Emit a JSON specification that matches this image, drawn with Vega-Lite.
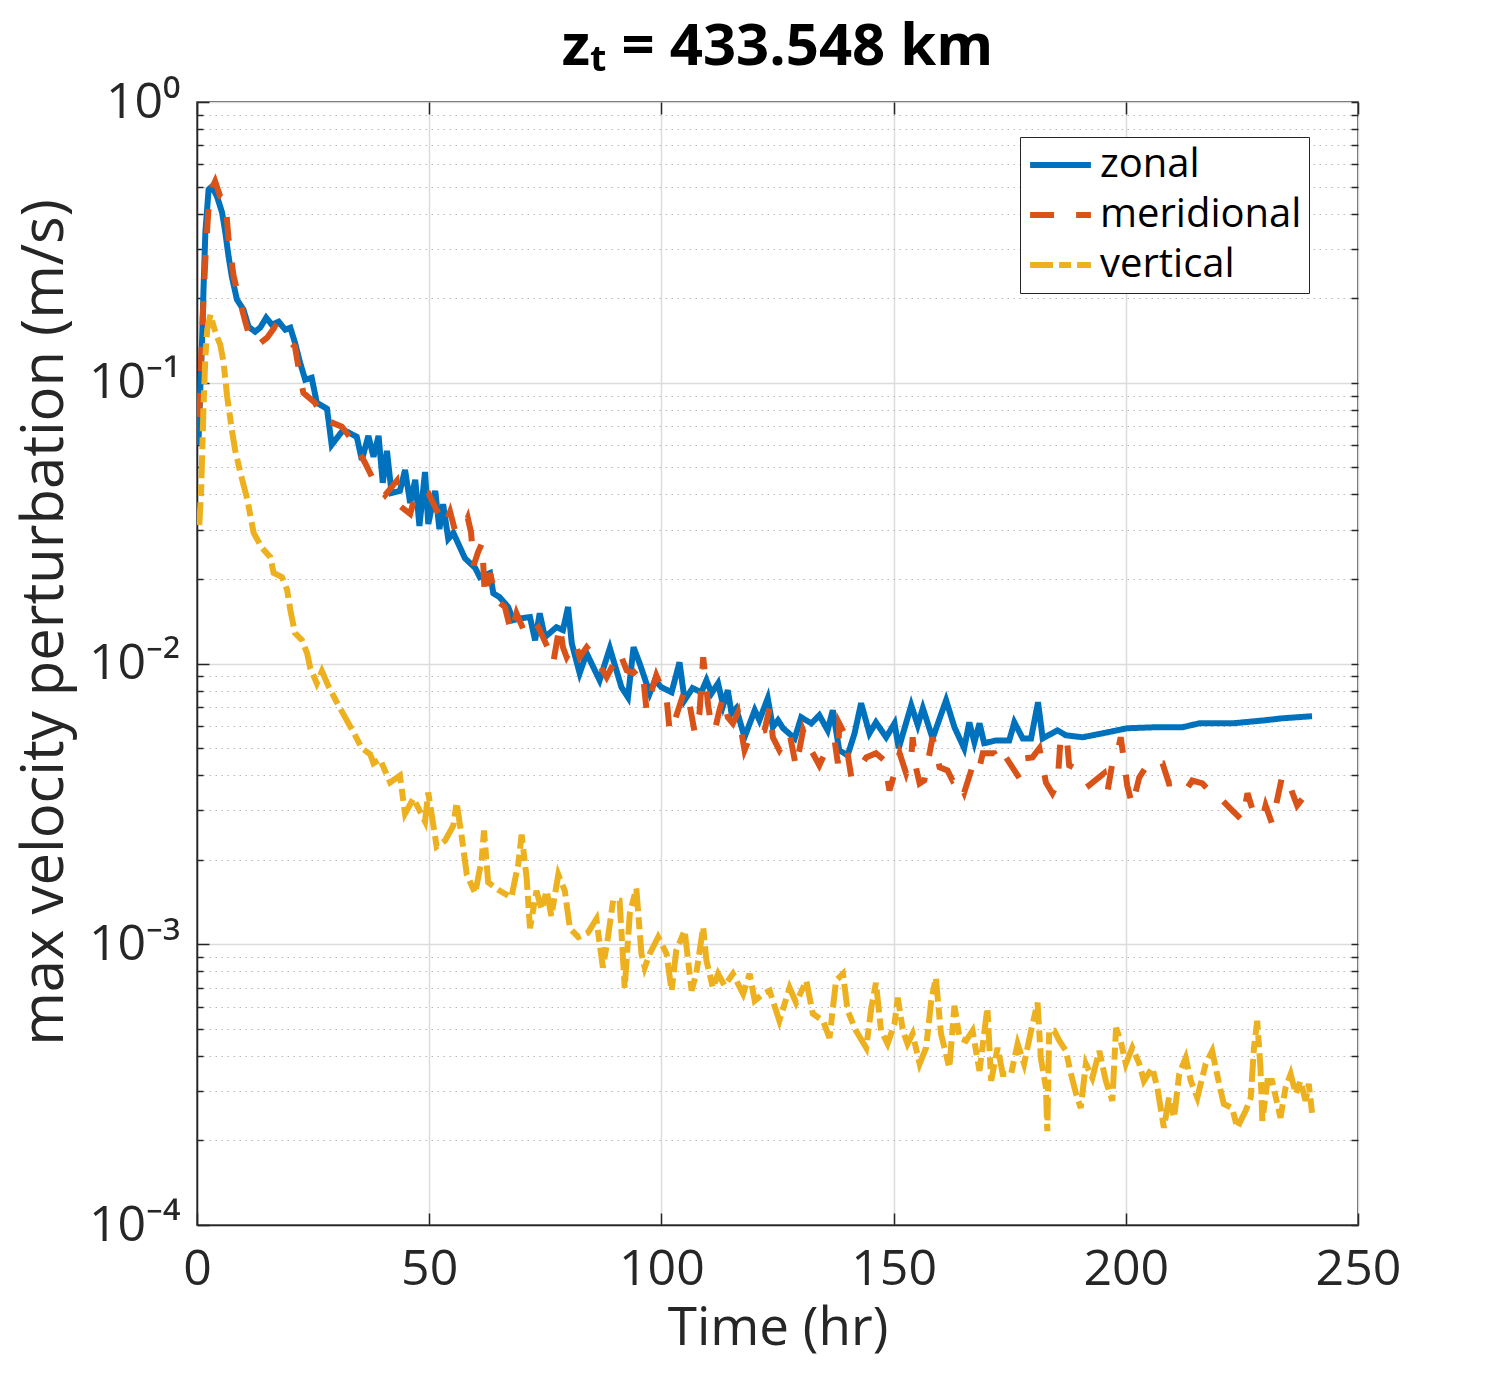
{
 "$schema": "https://vega.github.io/schema/vega-lite/v6.json",
 "width": 1161, "height": 1123,
 "autosize": {"type": "none"},
 "padding": {"left": 197, "top": 102, "right": 146, "bottom": 151},
 "background": "white",
 "config": {"font": "Open Sans", "view": {"stroke": "#262626", "strokeWidth": 1.5},
   "legend": {"orient": "none", "legendX": 823, "legendY": 35, "title": null, "labelFontSize": 40, "labelColor": "black", "labelFont": "Open Sans", "labelLimit": 0, "symbolType": "stroke", "symbolSize": 3700, "symbolStrokeWidth": 6, "strokeColor": "#262626", "fillColor": "white", "padding": 7, "clipHeight": 42, "rowPadding": 8, "labelOffset": 6}},
 "title": {"text": "zₜ = 433.548 km", "fontSize": 58, "fontWeight": "bold", "color": "black", "offset": 0, "anchor": "middle", "font": "Open Sans"},
 "data": {"values": [
{"s":"zonal","t":0.3,"v":0.0601},{"s":"zonal","t":0.7,"v":0.0944},{"s":"zonal","t":1.1,"v":0.1423},{"s":"zonal","t":1.4,"v":0.2147},{"s":"zonal","t":1.8,"v":0.343},{"s":"zonal","t":2.5,"v":0.488},{"s":"zonal","t":3.2,"v":0.5},{"s":"zonal","t":4.3,"v":0.461},{"s":"zonal","t":5.4,"v":0.404},{"s":"zonal","t":6.1,"v":0.343},{"s":"zonal","t":6.8,"v":0.2815},{"s":"zonal","t":7.5,"v":0.2388},{"s":"zonal","t":8.6,"v":0.1978},{"s":"zonal","t":10.0,"v":0.1822},{"s":"zonal","t":11.1,"v":0.1584},{"s":"zonal","t":12.5,"v":0.152},{"s":"zonal","t":13.6,"v":0.1571},{"s":"zonal","t":14.9,"v":0.1705},{"s":"zonal","t":16.1,"v":0.161},{"s":"zonal","t":17.6,"v":0.165},{"s":"zonal","t":19.0,"v":0.1545},{"s":"zonal","t":20.1,"v":0.157},{"s":"zonal","t":21.1,"v":0.1389},{"s":"zonal","t":22.2,"v":0.1179},{"s":"zonal","t":23.3,"v":0.1025},{"s":"zonal","t":24.7,"v":0.1042},{"s":"zonal","t":25.8,"v":0.0848},{"s":"zonal","t":28.0,"v":0.0808},{"s":"zonal","t":29.0,"v":0.0601},{"s":"zonal","t":31.5,"v":0.068},{"s":"zonal","t":34.4,"v":0.0642},{"s":"zonal","t":35.5,"v":0.0531},{"s":"zonal","t":36.9,"v":0.0647},{"s":"zonal","t":38.0,"v":0.0545},{"s":"zonal","t":39.1,"v":0.0647},{"s":"zonal","t":40.0,"v":0.044},{"s":"zonal","t":40.9,"v":0.0572},{"s":"zonal","t":41.9,"v":0.0405},{"s":"zonal","t":43.7,"v":0.0412},{"s":"zonal","t":44.8,"v":0.0489},{"s":"zonal","t":45.9,"v":0.0373},{"s":"zonal","t":47.0,"v":0.0451},{"s":"zonal","t":47.9,"v":0.0309},{"s":"zonal","t":49.1,"v":0.0481},{"s":"zonal","t":49.8,"v":0.0314},{"s":"zonal","t":51.3,"v":0.0412},{"s":"zonal","t":52.2,"v":0.0301},{"s":"zonal","t":53.0,"v":0.0369},{"s":"zonal","t":54.1,"v":0.0278},{"s":"zonal","t":55.2,"v":0.0292},{"s":"zonal","t":57.7,"v":0.0237},{"s":"zonal","t":59.9,"v":0.0219},{"s":"zonal","t":60.9,"v":0.0203},{"s":"zonal","t":63.1,"v":0.021},{"s":"zonal","t":63.8,"v":0.0178},{"s":"zonal","t":65.2,"v":0.0172},{"s":"zonal","t":67.0,"v":0.0159},{"s":"zonal","t":68.1,"v":0.01427},{"s":"zonal","t":69.9,"v":0.0145},{"s":"zonal","t":71.7,"v":0.01463},{"s":"zonal","t":72.8,"v":0.0121},{"s":"zonal","t":73.8,"v":0.0151},{"s":"zonal","t":74.9,"v":0.0124},{"s":"zonal","t":77.4,"v":0.01347},{"s":"zonal","t":78.8,"v":0.01315},{"s":"zonal","t":79.9,"v":0.0159},{"s":"zonal","t":80.7,"v":0.0118},{"s":"zonal","t":82.4,"v":0.00923},{"s":"zonal","t":83.9,"v":0.01088},{"s":"zonal","t":86.7,"v":0.00872},{"s":"zonal","t":88.9,"v":0.01134},{"s":"zonal","t":91.4,"v":0.00823},{"s":"zonal","t":92.8,"v":0.00758},{"s":"zonal","t":94.0,"v":0.01143},{"s":"zonal","t":95.3,"v":0.01003},{"s":"zonal","t":97.5,"v":0.00783},{"s":"zonal","t":98.6,"v":0.00872},{"s":"zonal","t":100.0,"v":0.00823},{"s":"zonal","t":102.2,"v":0.0079},{"s":"zonal","t":103.9,"v":0.0101},{"s":"zonal","t":105.0,"v":0.0074},{"s":"zonal","t":106.7,"v":0.00817},{"s":"zonal","t":108.6,"v":0.0079},{"s":"zonal","t":109.7,"v":0.00872},{"s":"zonal","t":110.8,"v":0.00783},{"s":"zonal","t":112.2,"v":0.0085},{"s":"zonal","t":113.3,"v":0.0071},{"s":"zonal","t":114.3,"v":0.00803},{"s":"zonal","t":115.1,"v":0.00665},{"s":"zonal","t":116.1,"v":0.00693},{"s":"zonal","t":117.9,"v":0.00546},{"s":"zonal","t":120.1,"v":0.00682},{"s":"zonal","t":121.1,"v":0.00628},{"s":"zonal","t":122.9,"v":0.00752},{"s":"zonal","t":124.0,"v":0.00593},{"s":"zonal","t":125.1,"v":0.00628},{"s":"zonal","t":126.2,"v":0.00588},{"s":"zonal","t":128.7,"v":0.00541},{"s":"zonal","t":130.1,"v":0.00643},{"s":"zonal","t":132.3,"v":0.00612},{"s":"zonal","t":134.0,"v":0.00654},{"s":"zonal","t":135.8,"v":0.00578},{"s":"zonal","t":136.9,"v":0.00682},{"s":"zonal","t":138.3,"v":0.00491},{"s":"zonal","t":140.1,"v":0.00471},{"s":"zonal","t":141.6,"v":0.00564},{"s":"zonal","t":143.0,"v":0.00722},{"s":"zonal","t":144.8,"v":0.00564},{"s":"zonal","t":146.2,"v":0.00617},{"s":"zonal","t":148.4,"v":0.00546},{"s":"zonal","t":150.2,"v":0.00612},{"s":"zonal","t":151.1,"v":0.00499},{"s":"zonal","t":153.8,"v":0.0071},{"s":"zonal","t":155.2,"v":0.00603},{"s":"zonal","t":156.3,"v":0.00693},{"s":"zonal","t":158.4,"v":0.00541},{"s":"zonal","t":161.3,"v":0.0074},{"s":"zonal","t":163.1,"v":0.00593},{"s":"zonal","t":165.2,"v":0.00499},{"s":"zonal","t":166.3,"v":0.00617},{"s":"zonal","t":167.4,"v":0.00524},{"s":"zonal","t":168.5,"v":0.00612},{"s":"zonal","t":169.5,"v":0.0052},{"s":"zonal","t":172.0,"v":0.00532},{"s":"zonal","t":174.9,"v":0.00532},{"s":"zonal","t":176.0,"v":0.00617},{"s":"zonal","t":177.8,"v":0.00541},{"s":"zonal","t":179.6,"v":0.00541},{"s":"zonal","t":181.1,"v":0.00728},{"s":"zonal","t":182.1,"v":0.00541},{"s":"zonal","t":185.3,"v":0.00578},{"s":"zonal","t":187.1,"v":0.00555},{"s":"zonal","t":190.7,"v":0.00546},{"s":"zonal","t":195.0,"v":0.00564},{"s":"zonal","t":200.3,"v":0.00588},{"s":"zonal","t":206.5,"v":0.00593},{"s":"zonal","t":212.2,"v":0.00593},{"s":"zonal","t":215.8,"v":0.00612},{"s":"zonal","t":222.9,"v":0.00612},{"s":"zonal","t":230.1,"v":0.00628},{"s":"zonal","t":233.7,"v":0.00638},{"s":"zonal","t":240.1,"v":0.00649},
{"s":"meridional","t":0.3,"v":0.0756},{"s":"meridional","t":0.7,"v":0.0891},{"s":"meridional","t":0.9,"v":0.1238},{"s":"meridional","t":1.2,"v":0.1637},{"s":"meridional","t":1.4,"v":0.1978},{"s":"meridional","t":1.8,"v":0.2747},{"s":"meridional","t":2.5,"v":0.4245},{"s":"meridional","t":3.3,"v":0.4963},{"s":"meridional","t":3.9,"v":0.5214},{"s":"meridional","t":5.0,"v":0.461},{"s":"meridional","t":6.1,"v":0.4496},{"s":"meridional","t":6.8,"v":0.3237},{"s":"meridional","t":7.9,"v":0.2388},{"s":"meridional","t":9.0,"v":0.2027},{"s":"meridional","t":10.4,"v":0.165},{"s":"meridional","t":11.5,"v":0.1423},{"s":"meridional","t":13.2,"v":0.1366},{"s":"meridional","t":15.1,"v":0.1447},{"s":"meridional","t":16.8,"v":0.1584},{"s":"meridional","t":17.9,"v":0.152},{"s":"meridional","t":19.0,"v":0.1447},{"s":"meridional","t":21.1,"v":0.1344},{"s":"meridional","t":22.2,"v":0.105},{"s":"meridional","t":22.9,"v":0.0921},{"s":"meridional","t":25.4,"v":0.0848},{"s":"meridional","t":27.6,"v":0.0738},{"s":"meridional","t":31.2,"v":0.0697},{"s":"meridional","t":33.7,"v":0.0616},{"s":"meridional","t":36.2,"v":0.0518},{"s":"meridional","t":38.0,"v":0.0451},{"s":"meridional","t":40.5,"v":0.0398},{"s":"meridional","t":43.0,"v":0.0447},{"s":"meridional","t":43.7,"v":0.0364},{"s":"meridional","t":45.9,"v":0.0341},{"s":"meridional","t":47.3,"v":0.0412},{"s":"meridional","t":49.8,"v":0.0405},{"s":"meridional","t":51.6,"v":0.0352},{"s":"meridional","t":53.4,"v":0.0311},{"s":"meridional","t":54.5,"v":0.0347},{"s":"meridional","t":55.6,"v":0.0296},{"s":"meridional","t":57.3,"v":0.0301},{"s":"meridional","t":58.3,"v":0.033},{"s":"meridional","t":59.0,"v":0.0294},{"s":"meridional","t":59.6,"v":0.0224},{"s":"meridional","t":60.5,"v":0.0249},{"s":"meridional","t":61.4,"v":0.0269},{"s":"meridional","t":62.0,"v":0.0172},{"s":"meridional","t":63.1,"v":0.021},{"s":"meridional","t":64.5,"v":0.0168},{"s":"meridional","t":66.3,"v":0.0159},{"s":"meridional","t":67.7,"v":0.01283},{"s":"meridional","t":68.8,"v":0.0151},{"s":"meridional","t":71.0,"v":0.0124},{"s":"meridional","t":73.5,"v":0.01347},{"s":"meridional","t":76.0,"v":0.01097},{"s":"meridional","t":76.7,"v":0.01003},{"s":"meridional","t":78.1,"v":0.0137},{"s":"meridional","t":78.8,"v":0.01143},{"s":"meridional","t":79.6,"v":0.01053},{"s":"meridional","t":81.4,"v":0.01191},{"s":"meridional","t":82.4,"v":0.01053},{"s":"meridional","t":83.9,"v":0.01143},{"s":"meridional","t":85.7,"v":0.01053},{"s":"meridional","t":88.2,"v":0.00894},{"s":"meridional","t":91.0,"v":0.01097},{"s":"meridional","t":92.5,"v":0.00946},{"s":"meridional","t":93.9,"v":0.00923},{"s":"meridional","t":95.3,"v":0.0097},{"s":"meridional","t":96.0,"v":0.00923},{"s":"meridional","t":96.8,"v":0.00682},{"s":"meridional","t":97.5,"v":0.00758},{"s":"meridional","t":98.9,"v":0.00908},{"s":"meridional","t":100.0,"v":0.00823},{"s":"meridional","t":101.1,"v":0.00758},{"s":"meridional","t":101.8,"v":0.00569},{"s":"meridional","t":102.9,"v":0.00628},{"s":"meridional","t":105.0,"v":0.00803},{"s":"meridional","t":106.1,"v":0.0071},{"s":"meridional","t":107.2,"v":0.00564},{"s":"meridional","t":108.2,"v":0.00665},{"s":"meridional","t":109.0,"v":0.01053},{"s":"meridional","t":109.7,"v":0.00823},{"s":"meridional","t":110.0,"v":0.00722},{"s":"meridional","t":110.8,"v":0.00593},{"s":"meridional","t":111.5,"v":0.00578},{"s":"meridional","t":112.5,"v":0.00682},{"s":"meridional","t":113.3,"v":0.00758},{"s":"meridional","t":114.3,"v":0.00643},{"s":"meridional","t":115.4,"v":0.00612},{"s":"meridional","t":116.5,"v":0.0067},{"s":"meridional","t":117.9,"v":0.00491},{"s":"meridional","t":119.4,"v":0.00564},{"s":"meridional","t":122.2,"v":0.00578},{"s":"meridional","t":123.3,"v":0.00693},{"s":"meridional","t":124.0,"v":0.00546},{"s":"meridional","t":125.4,"v":0.00491},{"s":"meridional","t":127.6,"v":0.00564},{"s":"meridional","t":129.0,"v":0.00427},{"s":"meridional","t":130.5,"v":0.00578},{"s":"meridional","t":131.9,"v":0.00503},{"s":"meridional","t":134.0,"v":0.00434},{"s":"meridional","t":135.5,"v":0.00491},{"s":"meridional","t":137.3,"v":0.00532},{"s":"meridional","t":138.0,"v":0.00441},{"s":"meridional","t":138.3,"v":0.00612},{"s":"meridional","t":139.4,"v":0.00564},{"s":"meridional","t":140.9,"v":0.00393},{"s":"meridional","t":142.7,"v":0.00427},{"s":"meridional","t":144.1,"v":0.00463},{"s":"meridional","t":146.2,"v":0.00479},{"s":"meridional","t":148.0,"v":0.00452},{"s":"meridional","t":149.1,"v":0.00353},{"s":"meridional","t":150.2,"v":0.00406},{"s":"meridional","t":151.3,"v":0.00479},{"s":"meridional","t":152.7,"v":0.00406},{"s":"meridional","t":153.8,"v":0.00463},{"s":"meridional","t":154.1,"v":0.00546},{"s":"meridional","t":154.8,"v":0.00427},{"s":"meridional","t":155.6,"v":0.00374},{"s":"meridional","t":156.6,"v":0.00383},{"s":"meridional","t":158.4,"v":0.00546},{"s":"meridional","t":159.9,"v":0.00427},{"s":"meridional","t":161.6,"v":0.00416},{"s":"meridional","t":162.7,"v":0.00383},{"s":"meridional","t":163.8,"v":0.00393},{"s":"meridional","t":165.2,"v":0.00347},{"s":"meridional","t":167.4,"v":0.00452},{"s":"meridional","t":168.5,"v":0.00427},{"s":"meridional","t":169.2,"v":0.00479},{"s":"meridional","t":171.7,"v":0.00479},{"s":"meridional","t":173.1,"v":0.00434},{"s":"meridional","t":174.2,"v":0.00463},{"s":"meridional","t":177.1,"v":0.0039},{"s":"meridional","t":178.1,"v":0.00459},{"s":"meridional","t":179.9,"v":0.00463},{"s":"meridional","t":181.4,"v":0.00499},{"s":"meridional","t":182.8,"v":0.00377},{"s":"meridional","t":184.2,"v":0.00345},{"s":"meridional","t":185.3,"v":0.00374},{"s":"meridional","t":186.0,"v":0.00555},{"s":"meridional","t":187.4,"v":0.0052},{"s":"meridional","t":187.8,"v":0.00434},{"s":"meridional","t":190.0,"v":0.00416},{"s":"meridional","t":192.1,"v":0.00368},{"s":"meridional","t":195.3,"v":0.00406},{"s":"meridional","t":196.0,"v":0.00345},{"s":"meridional","t":197.1,"v":0.00441},{"s":"meridional","t":198.2,"v":0.00483},{"s":"meridional","t":198.9,"v":0.00546},{"s":"meridional","t":199.6,"v":0.00452},{"s":"meridional","t":200.3,"v":0.00368},{"s":"meridional","t":201.4,"v":0.00312},{"s":"meridional","t":202.9,"v":0.00393},{"s":"meridional","t":205.0,"v":0.00445},{"s":"meridional","t":207.9,"v":0.00441},{"s":"meridional","t":209.3,"v":0.00374},{"s":"meridional","t":211.5,"v":0.00377},{"s":"meridional","t":212.9,"v":0.00353},{"s":"meridional","t":214.3,"v":0.00383},{"s":"meridional","t":216.5,"v":0.00374},{"s":"meridional","t":217.9,"v":0.00353},{"s":"meridional","t":220.1,"v":0.00334},{"s":"meridional","t":222.9,"v":0.003},{"s":"meridional","t":225.1,"v":0.00276},{"s":"meridional","t":226.2,"v":0.00345},{"s":"meridional","t":227.2,"v":0.00305},{"s":"meridional","t":229.4,"v":0.00281},{"s":"meridional","t":230.1,"v":0.00312},{"s":"meridional","t":231.5,"v":0.00269},{"s":"meridional","t":233.7,"v":0.00399},{"s":"meridional","t":235.1,"v":0.00374},{"s":"meridional","t":236.9,"v":0.00312},{"s":"meridional","t":239.1,"v":0.00347},{"s":"meridional","t":240.5,"v":0.00331},
{"s":"vertical","t":0.5,"v":0.0311},{"s":"vertical","t":0.9,"v":0.0415},{"s":"vertical","t":1.1,"v":0.0545},{"s":"vertical","t":1.4,"v":0.0821},{"s":"vertical","t":1.8,"v":0.1238},{"s":"vertical","t":2.2,"v":0.1545},{"s":"vertical","t":2.9,"v":0.1748},{"s":"vertical","t":3.6,"v":0.1584},{"s":"vertical","t":4.3,"v":0.1459},{"s":"vertical","t":5.0,"v":0.1366},{"s":"vertical","t":5.7,"v":0.1188},{"s":"vertical","t":6.5,"v":0.0891},{"s":"vertical","t":7.5,"v":0.068},{"s":"vertical","t":8.2,"v":0.0577},{"s":"vertical","t":9.3,"v":0.0481},{"s":"vertical","t":10.8,"v":0.0386},{"s":"vertical","t":12.2,"v":0.0292},{"s":"vertical","t":14.0,"v":0.0258},{"s":"vertical","t":15.8,"v":0.0239},{"s":"vertical","t":16.5,"v":0.021},{"s":"vertical","t":18.3,"v":0.0203},{"s":"vertical","t":19.4,"v":0.0183},{"s":"vertical","t":20.1,"v":0.0155},{"s":"vertical","t":21.1,"v":0.01283},{"s":"vertical","t":22.6,"v":0.0121},{"s":"vertical","t":23.7,"v":0.01088},{"s":"vertical","t":24.4,"v":0.00962},{"s":"vertical","t":25.8,"v":0.0085},{"s":"vertical","t":26.9,"v":0.00939},{"s":"vertical","t":28.3,"v":0.0083},{"s":"vertical","t":30.1,"v":0.00728},{"s":"vertical","t":31.9,"v":0.00643},{"s":"vertical","t":33.7,"v":0.00569},{"s":"vertical","t":35.5,"v":0.00499},{"s":"vertical","t":37.3,"v":0.00475},{"s":"vertical","t":38.0,"v":0.00441},{"s":"vertical","t":39.4,"v":0.00456},{"s":"vertical","t":41.6,"v":0.00377},{"s":"vertical","t":43.7,"v":0.00399},{"s":"vertical","t":44.8,"v":0.00292},{"s":"vertical","t":46.6,"v":0.00331},{"s":"vertical","t":49.1,"v":0.00274},{"s":"vertical","t":49.8,"v":0.00347},{"s":"vertical","t":50.9,"v":0.00265},{"s":"vertical","t":51.6,"v":0.00223},{"s":"vertical","t":53.4,"v":0.00234},{"s":"vertical","t":55.2,"v":0.00265},{"s":"vertical","t":55.9,"v":0.0032},{"s":"vertical","t":57.0,"v":0.00242},{"s":"vertical","t":58.1,"v":0.00177},{"s":"vertical","t":59.9,"v":0.00152},{"s":"vertical","t":61.3,"v":0.002},{"s":"vertical","t":61.8,"v":0.00254},{"s":"vertical","t":62.7,"v":0.00166},{"s":"vertical","t":65.2,"v":0.00155},{"s":"vertical","t":67.7,"v":0.00147},{"s":"vertical","t":69.2,"v":0.00194},{"s":"vertical","t":69.9,"v":0.00246},{"s":"vertical","t":71.0,"v":0.00171},{"s":"vertical","t":71.7,"v":0.00114},{"s":"vertical","t":73.1,"v":0.00155},{"s":"vertical","t":74.2,"v":0.00133},{"s":"vertical","t":75.3,"v":0.00155},{"s":"vertical","t":76.3,"v":0.00126},{"s":"vertical","t":77.8,"v":0.00177},{"s":"vertical","t":79.2,"v":0.00155},{"s":"vertical","t":80.3,"v":0.00114},{"s":"vertical","t":82.1,"v":0.00106},{"s":"vertical","t":84.2,"v":0.0011},{"s":"vertical","t":86.0,"v":0.00123},{"s":"vertical","t":87.4,"v":0.000825},{"s":"vertical","t":88.5,"v":0.00106},{"s":"vertical","t":89.6,"v":0.00143},{"s":"vertical","t":91.0,"v":0.00143},{"s":"vertical","t":92.1,"v":0.0007},{"s":"vertical","t":93.2,"v":0.00129},{"s":"vertical","t":94.6,"v":0.00158},{"s":"vertical","t":95.7,"v":0.000926},{"s":"vertical","t":96.4,"v":0.000825},{"s":"vertical","t":97.5,"v":0.000926},{"s":"vertical","t":99.3,"v":0.00106},{"s":"vertical","t":101.1,"v":0.000926},{"s":"vertical","t":102.2,"v":0.000683},{"s":"vertical","t":103.2,"v":0.000949},{"s":"vertical","t":105.0,"v":0.00112},{"s":"vertical","t":106.5,"v":0.000683},{"s":"vertical","t":107.5,"v":0.000785},{"s":"vertical","t":109.0,"v":0.00115},{"s":"vertical","t":109.7,"v":0.000874},{"s":"vertical","t":111.1,"v":0.0007},{"s":"vertical","t":112.2,"v":0.000785},{"s":"vertical","t":113.6,"v":0.000712},{"s":"vertical","t":115.4,"v":0.000785},{"s":"vertical","t":117.6,"v":0.000666},{"s":"vertical","t":119.0,"v":0.000785},{"s":"vertical","t":120.1,"v":0.000629},{"s":"vertical","t":121.9,"v":0.000666},{"s":"vertical","t":123.3,"v":0.000683},{"s":"vertical","t":125.4,"v":0.000534},{"s":"vertical","t":127.6,"v":0.0007},{"s":"vertical","t":129.0,"v":0.000619},{"s":"vertical","t":131.2,"v":0.000741},{"s":"vertical","t":132.6,"v":0.000566},{"s":"vertical","t":134.8,"v":0.000534},{"s":"vertical","t":136.2,"v":0.000464},{"s":"vertical","t":137.6,"v":0.000741},{"s":"vertical","t":139.1,"v":0.000785},{"s":"vertical","t":140.1,"v":0.00058},{"s":"vertical","t":141.9,"v":0.000492},{"s":"vertical","t":144.1,"v":0.000428},{"s":"vertical","t":145.2,"v":0.000594},{"s":"vertical","t":146.2,"v":0.000729},{"s":"vertical","t":147.3,"v":0.000492},{"s":"vertical","t":148.7,"v":0.000442},{"s":"vertical","t":150.2,"v":0.000521},{"s":"vertical","t":150.9,"v":0.000645},{"s":"vertical","t":152.0,"v":0.000492},{"s":"vertical","t":153.0,"v":0.000442},{"s":"vertical","t":154.1,"v":0.00048},{"s":"vertical","t":155.6,"v":0.000375},{"s":"vertical","t":157.0,"v":0.000428},{"s":"vertical","t":158.1,"v":0.000629},{"s":"vertical","t":159.1,"v":0.00076},{"s":"vertical","t":160.2,"v":0.00048},{"s":"vertical","t":162.0,"v":0.000363},{"s":"vertical","t":163.1,"v":0.000604},{"s":"vertical","t":164.2,"v":0.000464},{"s":"vertical","t":165.6,"v":0.000453},{"s":"vertical","t":167.0,"v":0.000492},{"s":"vertical","t":168.5,"v":0.000354},{"s":"vertical","t":170.2,"v":0.000594},{"s":"vertical","t":171.0,"v":0.000326},{"s":"vertical","t":172.4,"v":0.000428},{"s":"vertical","t":173.5,"v":0.000345},{"s":"vertical","t":175.3,"v":0.000345},{"s":"vertical","t":176.7,"v":0.000442},{"s":"vertical","t":178.1,"v":0.000375},{"s":"vertical","t":179.6,"v":0.000492},{"s":"vertical","t":181.0,"v":0.000619},{"s":"vertical","t":181.7,"v":0.000394},{"s":"vertical","t":182.8,"v":0.000308},{"s":"vertical","t":183.1,"v":0.000216},{"s":"vertical","t":183.5,"v":0.000492},{"s":"vertical","t":184.6,"v":0.000492},{"s":"vertical","t":185.7,"v":0.000453},{"s":"vertical","t":187.1,"v":0.000417},{"s":"vertical","t":188.2,"v":0.000345},{"s":"vertical","t":189.3,"v":0.000293},{"s":"vertical","t":190.3,"v":0.000261},{"s":"vertical","t":191.4,"v":0.000375},{"s":"vertical","t":192.8,"v":0.000334},{"s":"vertical","t":194.3,"v":0.000417},{"s":"vertical","t":195.7,"v":0.000326},{"s":"vertical","t":197.1,"v":0.000277},{"s":"vertical","t":197.9,"v":0.000504},{"s":"vertical","t":198.9,"v":0.000453},{"s":"vertical","t":200.0,"v":0.000375},{"s":"vertical","t":201.4,"v":0.000428},{"s":"vertical","t":202.9,"v":0.000375},{"s":"vertical","t":203.9,"v":0.000326},{"s":"vertical","t":205.7,"v":0.000363},{"s":"vertical","t":206.8,"v":0.000308},{"s":"vertical","t":208.2,"v":0.000222},{"s":"vertical","t":209.3,"v":0.000284},{"s":"vertical","t":210.4,"v":0.000241},{"s":"vertical","t":211.5,"v":0.000345},{"s":"vertical","t":212.9,"v":0.000394},{"s":"vertical","t":214.0,"v":0.000326},{"s":"vertical","t":215.4,"v":0.000284},{"s":"vertical","t":217.2,"v":0.000375},{"s":"vertical","t":218.6,"v":0.000417},{"s":"vertical","t":220.1,"v":0.000318},{"s":"vertical","t":221.1,"v":0.00027},{"s":"vertical","t":222.9,"v":0.000261},{"s":"vertical","t":224.0,"v":0.000222},{"s":"vertical","t":225.8,"v":0.000255},{"s":"vertical","t":226.9,"v":0.000284},{"s":"vertical","t":227.6,"v":0.000428},{"s":"vertical","t":228.3,"v":0.000534},{"s":"vertical","t":229.0,"v":0.000363},{"s":"vertical","t":229.4,"v":0.000235},{"s":"vertical","t":230.5,"v":0.000326},{"s":"vertical","t":231.5,"v":0.000326},{"s":"vertical","t":233.3,"v":0.000241},{"s":"vertical","t":234.4,"v":0.000308},{"s":"vertical","t":235.5,"v":0.000345},{"s":"vertical","t":236.6,"v":0.000293},{"s":"vertical","t":237.6,"v":0.000326},{"s":"vertical","t":238.7,"v":0.000277},{"s":"vertical","t":239.4,"v":0.000318},{"s":"vertical","t":240.1,"v":0.000251}
 ]},
 "layer": [
  {
   "mark": {"type": "point", "opacity": 0},
   "encoding": {
    "x": {"field": "t", "type": "quantitative", "scale": {"domain": [0, 250], "nice": false, "zero": false},
      "axis": {"orient": "top", "values": [0, 50, 100, 150, 200, 250], "labels": false, "title": null, "domain": false, "grid": false, "tickSize": -12, "tickColor": "#262626", "tickWidth": 1.5}},
    "y": {"field": "v", "type": "quantitative", "scale": {"type": "log", "domain": [0.0001, 1], "nice": false},
      "axis": {"orient": "left", "values": [0.0002,0.0003,0.0004,0.0005,0.0006,0.0007,0.0008,0.0009,0.002,0.003,0.004,0.005,0.006,0.007,0.008,0.009,0.02,0.03,0.04,0.05,0.06,0.07,0.08,0.09,0.2,0.3,0.4,0.5,0.6,0.7,0.8,0.9], "labels": false, "title": null, "domain": false, "grid": true, "gridDash": [1.5, 4.5], "gridColor": "#b8b8b8", "gridWidth": 1.2, "tickSize": -6, "tickColor": "#262626", "tickWidth": 1.5}}
   }
  },
  {
   "mark": {"type": "point", "opacity": 0},
   "encoding": {
    "x": {"field": "t", "type": "quantitative", "scale": {"domain": [0, 250], "nice": false, "zero": false}, "axis": null},
    "y": {"field": "v", "type": "quantitative", "scale": {"type": "log", "domain": [0.0001, 1], "nice": false},
      "axis": {"orient": "right", "values": [0.0001,0.0002,0.0003,0.0004,0.0005,0.0006,0.0007,0.0008,0.0009,0.001,0.002,0.003,0.004,0.005,0.006,0.007,0.008,0.009,0.01,0.02,0.03,0.04,0.05,0.06,0.07,0.08,0.09,0.1,0.2,0.3,0.4,0.5,0.6,0.7,0.8,0.9,1], "labels": false, "title": null, "domain": false, "grid": false, "tickSize": -7, "tickColor": "#262626", "tickWidth": 1.5}}
   }
  },
  {
   "mark": {"type": "line", "strokeWidth": 6, "clip": true},
   "encoding": {
    "x": {"field": "t", "type": "quantitative", "scale": {"domain": [0, 250], "nice": false, "zero": false},
      "axis": {"orient": "bottom", "values": [0, 50, 100, 150, 200, 250], "title": "Time (hr)", "titleFontSize": 53, "titleFontWeight": "normal", "titleColor": "#262626", "titlePadding": 8, "labelFontSize": 50, "labelColor": "#262626", "labelPadding": 31, "labelFlush": false, "grid": true, "gridColor": "#dcdcdc", "gridWidth": 1.5, "domainColor": "#262626", "domainWidth": 1.5, "tickSize": -12, "tickColor": "#262626", "tickWidth": 1.5}},
    "y": {"field": "v", "type": "quantitative", "scale": {"type": "log", "domain": [0.0001, 1], "nice": false},
      "axis": {"orient": "left", "values": [0.0001, 0.001, 0.01, 0.1, 1], "title": "max velocity perturbation (m/s)", "titleFontSize": 58, "titleFontWeight": "normal", "titleColor": "#262626", "titleX": -152, "titleY": 520, "titleBaseline": "middle", "labelFontSize": 50, "labelColor": "#262626", "labelPadding": 29, "labelFlush": false, "labelExpr": "datum.value >= 0.5 ? '10⁰' : datum.value >= 0.05 ? '10⁻¹' : datum.value >= 0.005 ? '10⁻²' : datum.value >= 0.0005 ? '10⁻³' : '10⁻⁴'", "grid": true, "gridColor": "#dcdcdc", "gridWidth": 1.5, "domainColor": "#262626", "domainWidth": 1.5, "tickSize": -12, "tickColor": "#262626", "tickWidth": 1.5}},
    "color": {"field": "s", "type": "nominal", "scale": {"domain": ["zonal", "meridional", "vertical"], "range": ["#0072BD", "#D95319", "#EDB120"]}, "legend": {"title": null}},
    "strokeDash": {"field": "s", "type": "nominal", "scale": {"domain": ["zonal", "meridional", "vertical"], "range": [[1, 0], [24, 22], [23, 6, 12, 6]]}, "legend": {"title": null}}
   }
  }
 ],
 "resolve": {"axis": {"x": "independent", "y": "independent"}}
}
